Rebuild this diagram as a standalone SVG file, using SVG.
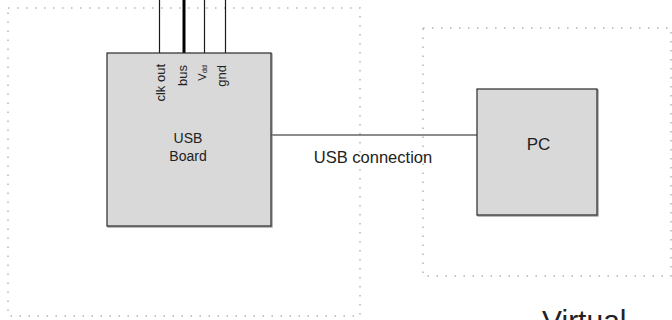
<svg xmlns="http://www.w3.org/2000/svg" width="672" height="320" viewBox="0 0 672 320">
  <style>
    .zone { fill: none; stroke: #b4b4b4; stroke-width: 1.5; stroke-dasharray: 1.5 7.5; }
    .box { fill: #d9d9d9; stroke: #2a2a2a; stroke-width: 1.2; }
    .shadow { fill: none; stroke: #8a8a8a; stroke-width: 1.2; }
    .wire { stroke: #1a1a1a; stroke-width: 1.2; fill: none; }
    .bus { stroke: #000; stroke-width: 3; fill: none; }
    text { font-family: "Liberation Sans", Arial, sans-serif; fill: #222; }
    .pin { font-size: 13px; text-anchor: end; }
  </style>

  <!-- dotted zones -->
  <g id="zones">
    <rect class="zone" x="8" y="8" width="352" height="308"/>
    <rect class="zone" x="423" y="28" width="248" height="248"/>
  </g>

  <!-- connectors -->
  <g id="connectors">
    <line class="wire" x1="159.5" y1="0" x2="159.5" y2="53"/>
    <line class="bus" x1="184" y1="0" x2="184" y2="53"/>
    <line class="wire" x1="204.5" y1="0" x2="204.5" y2="53"/>
    <line class="wire" x1="225.5" y1="0" x2="225.5" y2="53"/>
    <line class="wire" x1="271" y1="135" x2="477" y2="135"/>
    <text x="373" y="163" font-size="16.5" text-anchor="middle">USB connection</text>
  </g>

  <!-- USB board -->
  <g id="usb-board">
    <rect class="shadow" x="108" y="54" width="164" height="173"/>
    <rect class="box" x="107" y="53" width="164" height="173"/>
    <text class="pin" transform="translate(164.5,64) rotate(-90)">clk out</text>
    <text class="pin" transform="translate(187,65) rotate(-90)">bus</text>
    <text class="pin" transform="translate(206,65) rotate(-90)"><tspan font-size="11">V</tspan><tspan font-size="7.5" dy="1">dd</tspan></text>
    <text class="pin" transform="translate(226,65) rotate(-90)">gnd</text>
    <text x="188" y="143" font-size="14" text-anchor="middle">USB</text>
    <text x="188" y="161" font-size="14" text-anchor="middle">Board</text>
  </g>

  <!-- PC -->
  <g id="pc">
    <rect class="shadow" x="478" y="90" width="120" height="126"/>
    <rect class="box" x="477" y="89" width="120" height="126"/>
    <text x="538.5" y="150" font-size="17" text-anchor="middle">PC</text>
  </g>

  <!-- caption -->
  <g id="caption">
    <text x="542" y="331" font-size="30">Virtual</text>
  </g>
</svg>
